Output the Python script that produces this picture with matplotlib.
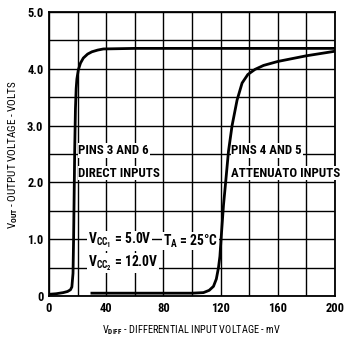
#!/usr/bin/env python3

import matplotlib
matplotlib.use("Agg")
import matplotlib.pyplot as plt
from matplotlib import font_manager

# curve for pins 3 and 6 (direct inputs)
x_direct = [0, 5, 10, 13, 15, 16, 16.8, 17.2, 17.6, 18.0, 18.5, 19.0, 19.5, 20.5, 22, 24, 27, 30, 34, 38, 60, 100, 150, 200]
y_direct = [0.03, 0.04, 0.06, 0.08, 0.11, 0.16, 0.4, 1.0, 1.8, 2.6, 3.3, 3.65, 3.82, 3.98, 4.1, 4.19, 4.26, 4.30, 4.33, 4.35, 4.36, 4.36, 4.36, 4.36]

# curve for pins 4 and 5 (attenuator inputs)
x_atten = [30, 60, 100, 108, 112, 115, 117, 118.5, 119.5, 120.3, 122, 123.5, 125.5, 128, 131.5, 135, 139, 144, 150, 160, 170, 180, 190, 200]
y_atten = [0.05, 0.05, 0.05, 0.06, 0.1, 0.17, 0.3, 0.5, 0.7, 1.0, 1.6, 2.0, 2.55, 3.0, 3.45, 3.75, 3.9, 3.99, 4.06, 4.13, 4.18, 4.23, 4.27, 4.31]

x_ticks = [0, 40, 80, 120, 160, 200]
x_ticklabels = ["0", "40", "80", "120", "160", "200"]
y_ticks = [0, 1, 2, 3, 4, 5]
y_ticklabels = ["0", "1.0", "2.0", "3.0", "4.0", "5.0"]

# pick a narrow face if one is installed
names = sorted({f.name for f in font_manager.fontManager.ttflist})
fnt = "DejaVu Sans"
for cand in ["Liberation Sans Narrow", "DejaVu Sans Condensed", "Roboto Condensed", "Open Sans Condensed", "Noto Sans Condensed"]:
    if cand in names:
        fnt = cand
        break
else:
    for n in names:
        if "Condensed" in n or "Narrow" in n:
            fnt = n
            break

plt.rcParams["font.family"] = [fnt, "DejaVu Sans"]
plt.rcParams["font.weight"] = "bold"
plt.rcParams["mathtext.fontset"] = "custom"
plt.rcParams["mathtext.rm"] = fnt + ":bold"
plt.rcParams["mathtext.it"] = fnt + ":bold"
plt.rcParams["mathtext.bf"] = fnt + ":bold"

fig = plt.figure(figsize=(3.44, 3.44), dpi=100)
ax = fig.add_axes([0.1424, 0.1395, 0.8316, 0.8255])

ax.set_xlim(0, 200)
ax.set_ylim(0, 5)
ax.set_xticks(x_ticks)
ax.set_xticklabels(x_ticklabels)
ax.set_xticks(range(0, 201, 20), minor=True)
ax.set_yticks(y_ticks)
ax.set_yticklabels(y_ticklabels)
ax.set_yticks([i * 0.5 for i in range(11)], minor=True)
ax.grid(True, which="both", color="black", linewidth=1.0)
ax.set_axisbelow(True)
ax.tick_params(which="both", length=0, pad=4, labelsize=9)
for s in ax.spines.values():
    s.set_linewidth(1.3)

ax.plot(x_direct, y_direct, color="black", linewidth=2.0)
ax.plot(x_atten, y_atten, color="black", linewidth=2.0)

box = dict(facecolor="white", edgecolor="none", pad=0.5)
fa = 9.3
ax.text(20.5, 2.56, "PINS 3 AND 6", fontsize=fa, va="center", ha="left", bbox=box)
ax.text(20.5, 2.16, "DIRECT INPUTS", fontsize=fa, va="center", ha="left", bbox=box)
ax.text(127.5, 2.56, "PINS 4 AND 5", fontsize=fa, va="center", ha="left", bbox=box)
ax.text(127.5, 2.16, "ATTENUATO INPUTS", fontsize=fa, va="center", ha="left", bbox=box)
ax.text(27, 0.97, r"V$_{\rm CC_{1}}$ = 5.0V", fontsize=9.8, va="center", ha="left", bbox=box)
ax.text(27, 0.58, r"V$_{\rm CC_{2}}$ = 12.0V", fontsize=9.8, va="center", ha="left", bbox=box)
ax.text(79.5, 0.97, r"T$_{\rm A}$ = 25°C", fontsize=9.8, va="center", ha="left", bbox=box)

ax.set_xlabel(r"V$_{\rm DIFF}$ - DIFFERENTIAL INPUT VOLTAGE - mV", fontsize=7.5, labelpad=6)
ax.set_ylabel(r"V$_{\rm OUT}$ - OUTPUT VOLTAGE - VOLTS", fontsize=8, labelpad=5)

fig.savefig("out.png", dpi=100)
